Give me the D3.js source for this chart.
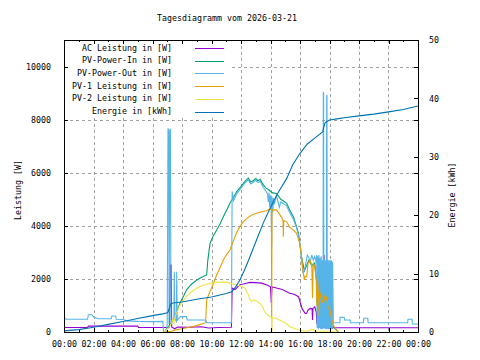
<!DOCTYPE html>
<html>
<head>
<meta charset="utf-8">
<script src="https://cdn.jsdelivr.net/npm/d3@7"></script>
<style>
  body { margin: 0; background: #fff; }
  svg { display: block; font-family: "DejaVu Sans Mono", monospace; font-size: 8.3px; }
</style>
</head>
<body>
<div id="chart-area"></div>
<script>
const title = "Tagesdiagramm vom 2026-03-21";
const hourTicks = [0, 2, 4, 6, 8, 10, 12, 14, 16, 18, 20, 22, 24];
const wattTicks = [0, 2000, 4000, 6000, 8000, 10000];
const kwhTicks = [0, 10, 20, 30, 40, 50];

// [hour, W]
const acPower = [
    [0, 170], [1.6, 170], [1.65, 220], [5.0, 220], [5.05, 170], [7.15, 170], [7.2, 2520], [7.26, 2520],
    [7.3, 190], [7.5, 120], [7.7, 190], [8.5, 180], [9.3, 200], [9.8, 150], [10.5, 170], [11.35, 180],
    [11.4, 1650], [11.6, 1600], [11.9, 1770], [12.3, 1830], [12.6, 1870], [13.0, 1860], [13.4, 1840],
    [13.8, 1760], [14.0, 1700], [14.05, 1100], [14.1, 1700], [14.4, 1660], [14.8, 1600], [15.3, 1460],
    [15.6, 1420], [15.9, 1330], [16.0, 1140], [16.15, 870], [16.35, 700], [16.45, 710], [16.55, 830],
    [16.7, 890], [16.82, 880], [16.85, 450], [16.88, 880], [17.0, 950], [17.1, 750], [17.15, 300],
    [17.2, 500], [17.25, 150], [17.3, 480], [17.35, 150], [17.4, 500], [17.45, 120], [17.5, 450],
    [17.55, 150], [17.63, 2900], [17.66, 200], [17.7, 480], [17.75, 120], [17.8, 500], [17.85, 150],
    [17.9, 520], [17.95, 130], [18.0, 480], [18.05, 120], [18.1, 420], [18.15, 140], [18.25, 160], [24, 160]
];

const pvIn = [
    [6.8, 0], [7.0, 150], [7.2, 300], [7.4, 450], [7.6, 700], [7.86, 1080], [8.1, 1350], [8.3, 1580],
    [8.6, 1780], [9.0, 1960], [9.3, 2050], [9.67, 2150], [9.75, 2700], [9.9, 3340], [10.1, 3600],
    [10.35, 3840], [10.6, 4100], [10.8, 4340], [11.0, 4560], [11.25, 4850], [11.5, 5080], [11.7, 5280],
    [11.95, 5450], [12.16, 5600], [12.35, 5720], [12.5, 5800], [12.65, 5650], [12.83, 5700], [13.0, 5780],
    [13.15, 5700], [13.3, 5750], [13.5, 5550], [13.7, 5420], [13.9, 5350], [14.1, 5250], [14.4, 5220],
    [14.7, 5000], [15.1, 4850], [15.3, 4600], [15.55, 4340], [15.75, 4000], [15.9, 3720], [16.1, 2840],
    [16.3, 2300], [16.6, 2700], [16.8, 2500], [17.0, 2600], [17.2, 1500], [17.5, 1300], [17.8, 1200],
    [18.0, 800], [18.26, 200], [18.5, 50], [18.6, 0]
];

const pvOut = [
    [0, 560], [0.15, 480], [1.6, 480], [1.65, 650], [1.9, 650], [2.0, 560], [2.3, 500], [3.2, 500],
    [3.25, 600], [3.5, 600], [3.55, 480], [4.0, 470], [4.3, 420], [5.0, 400], [6.0, 390], [6.7, 400],
    [6.75, 0], [6.95, 0], [7.0, 350], [7.05, 7670], [7.1, 7600], [7.12, 300], [7.18, 7600], [7.22, 7650],
    [7.25, 400], [7.45, 500], [7.48, 2270], [7.52, 500], [7.62, 400], [7.64, 2270], [7.68, 450],
    [7.9, 580], [8.3, 580], [8.35, 450], [9.6, 450], [9.67, 350], [11.35, 350], [11.4, 5300],
    [11.5, 4950], [11.7, 5200], [11.95, 5380], [12.16, 5540], [12.35, 5660], [12.5, 5740], [12.65, 5580],
    [12.83, 5640], [13.0, 5720], [13.15, 5630], [13.3, 5680], [13.5, 5450], [13.7, 5300], [13.8, 5200],
    [13.85, 4900], [13.9, 5250], [13.95, 4700], [14.0, 5150], [14.05, 4600], [14.08, 3200], [14.1, 5100],
    [14.15, 4500], [14.2, 5050], [14.25, 4800], [14.4, 5150], [14.6, 4700], [14.7, 4900], [15.1, 4750],
    [15.3, 4500], [15.55, 4250], [15.75, 3950], [15.9, 3650], [16.0, 3300], [16.1, 2800], [16.2, 2250],
    [16.3, 2300], [16.4, 2600], [16.5, 2900], [16.6, 2800], [16.7, 2650], [16.8, 2900], [16.9, 2700],
    [17.0, 2850], [17.1, 2600], [17.13, 2900], [17.16, 150], [17.2, 2850], [17.24, 100], [17.28, 2900],
    [17.32, 150], [17.36, 2800], [17.4, 100], [17.44, 2850], [17.48, 120], [17.52, 2700], [17.56, 100],
    [17.58, 9050], [17.6, 9000], [17.62, 150], [17.66, 2750], [17.7, 100], [17.74, 2700], [17.78, 120],
    [17.81, 8930], [17.83, 8900], [17.85, 100], [17.89, 2700], [17.93, 100], [17.97, 2700], [18.01, 120],
    [18.05, 2700], [18.09, 100], [18.13, 2700], [18.17, 100], [18.21, 2650], [18.26, 350], [18.7, 350],
    [18.72, 550], [19.0, 550], [19.02, 450], [19.4, 450], [19.42, 350], [20.3, 350], [20.32, 520],
    [20.6, 520], [20.62, 350], [23.3, 350], [23.32, 480], [23.6, 480], [23.62, 300], [24, 300]
];

const pv1 = [
    [6.9, 0], [7.3, 30], [7.6, 80], [8.0, 120], [8.5, 180], [9.0, 240], [9.44, 320], [9.6, 350],
    [9.67, 1200], [9.8, 1400], [10.0, 1650], [10.35, 2150], [10.6, 2450], [10.8, 2710], [11.0, 2900],
    [11.25, 3090], [11.5, 3450], [11.7, 3750], [11.93, 3970], [12.15, 4150], [12.4, 4280], [12.7, 4400],
    [13.06, 4470], [13.4, 4530], [13.74, 4570], [14.0, 4640], [14.06, 4650], [14.08, 0], [14.1, 4600],
    [14.4, 4600], [14.6, 4450], [14.85, 4220], [14.87, 3590], [14.9, 4200], [15.1, 4150], [15.3, 3950],
    [15.55, 3850], [15.77, 3720], [16.0, 3300], [16.1, 2850], [16.2, 2300], [16.3, 1960], [16.35, 2100],
    [16.45, 2080], [16.55, 2600], [16.68, 2710], [16.8, 2500], [16.85, 1280], [16.9, 2600], [17.0, 2450],
    [17.1, 1950], [17.15, 1000], [17.2, 1900], [17.25, 1400], [17.3, 600], [17.35, 1500], [17.47, 1200],
    [17.55, 1100], [17.6, 1450], [17.7, 1200], [17.8, 1300], [17.9, 900], [18.0, 950], [18.1, 600],
    [18.26, 250], [18.5, 50], [18.6, 0]
];

const pv2 = [
    [6.8, 0], [7.1, 150], [7.3, 350], [7.4, 500], [7.45, 300], [7.53, 580], [7.7, 800], [7.86, 1020],
    [8.1, 1200], [8.3, 1330], [8.6, 1500], [9.0, 1650], [9.3, 1730], [9.67, 1800], [10.0, 1840],
    [10.35, 1870], [10.7, 1880], [11.03, 1870], [11.4, 1820], [11.7, 1770], [12.0, 1720], [12.27, 1650],
    [12.4, 1500], [12.5, 1400], [12.6, 1250], [12.7, 1140], [12.85, 1200], [13.06, 1180], [13.2, 1100],
    [13.4, 1020], [13.5, 900], [13.6, 770], [13.8, 650], [13.97, 580], [14.06, 560], [14.08, 0],
    [14.1, 540], [14.4, 515], [14.6, 450], [14.87, 390], [15.1, 300], [15.32, 200], [15.55, 150],
    [15.78, 100], [16.0, 60], [16.3, 40], [16.6, 40], [16.75, 100], [16.9, 90], [17.0, 40], [17.5, 30],
    [18.26, 30], [18.4, 0]
];

// [hour, kWh]
const energy = [
    [0, 0.2], [1.0, 0.4], [2.0, 0.8], [3.0, 1.3], [4.0, 1.8], [5.0, 2.3], [6.0, 2.8], [6.7, 3.1],
    [7.0, 3.3], [7.05, 3.4], [7.25, 4.9], [7.5, 5.0], [8.0, 5.15], [9.0, 5.6], [10.0, 6.0], [11.0, 6.6],
    [11.37, 6.9], [11.6, 7.6], [11.93, 8.9], [12.2, 10.4], [12.5, 12.2], [13.06, 15.8], [13.5, 18.6],
    [13.97, 21.2], [14.5, 23.8], [15.1, 26.3], [15.5, 28.6], [16.0, 30.6], [16.5, 32.2], [17.0, 33.2],
    [17.55, 34.3], [17.6, 35.0], [17.7, 35.8], [17.8, 36.0], [18.0, 36.3], [18.5, 36.5], [19.0, 36.7],
    [20.0, 37.0], [21.0, 37.3], [22.0, 37.7], [23.0, 38.1], [24.0, 38.7]
];

const series = [
    { label: "AC Leistung in [W]", data: acPower, color: "#9400d3", axis: "y" },
    { label: "PV-Power-In in [W]", data: pvIn, color: "#009e73", axis: "y" },
    { label: "PV-Power-Out in [W]", data: pvOut, color: "#56b4e9", axis: "y" },
    { label: "PV-1 Leistung in [W]", data: pv1, color: "#e69f00", axis: "y" },
    { label: "PV-2 Leistung in [W]", data: pv2, color: "#f0e442", axis: "y" },
    { label: "Energie in [kWh]", data: energy, color: "#0072b2", axis: "y2" }
];

const width = 480, height = 360;
const plot = { left: 64, right: 418, top: 40, bottom: 332 };

const svg = d3.select("#chart-area")
    .append("svg")
    .attr("width", width)
    .attr("height", height);

const x = d3.scaleLinear().domain([0, 24]).range([plot.left, plot.right]);
const y = d3.scaleLinear().domain([0, 11000]).range([plot.bottom, plot.top]);
const y2 = d3.scaleLinear().domain([0, 50]).range([plot.bottom, plot.top]);

const hhmm = h => (h % 24 < 10 ? "0" : "") + (h % 24) + ":00";

// grid
const grid = svg.append("g")
    .attr("stroke", "#a0a0a0")
    .attr("stroke-dasharray", "3,3")
    .attr("shape-rendering", "crispEdges");
grid.selectAll("line.gx")
    .data(hourTicks.slice(1, -1))
    .join("line")
    .attr("x1", d => Math.round(x(d)) + 0.5).attr("x2", d => Math.round(x(d)) + 0.5)
    .attr("y1", plot.top).attr("y2", plot.bottom);
grid.selectAll("line.gy")
    .data(wattTicks.slice(1))
    .join("line")
    .attr("x1", plot.left).attr("x2", plot.right)
    .attr("y1", d => Math.round(y(d)) + 0.5).attr("y2", d => Math.round(y(d)) + 0.5);

// data lines, plotted in order like gnuplot
const lines = svg.append("g");
series.forEach(s => {
    const yy = s.axis === "y2" ? y2 : y;
    const line = d3.line().x(d => x(d[0])).y(d => yy(d[1]));
    lines.append("path")
        .datum(s.data)
        .attr("fill", "none")
        .attr("stroke", s.color)
        .attr("stroke-width", 1.1)
        .attr("d", line);
});

// opaque key
svg.append("rect")
    .attr("x", plot.left + 1).attr("y", plot.top + 1)
    .attr("width", 166).attr("height", 77)
    .attr("fill", "#fff");

const key = svg.append("g");
series.forEach((s, i) => {
    const ky = 48 + i * 12.7;
    key.append("text")
        .attr("x", 172).attr("y", ky)
        .attr("dy", "0.32em")
        .attr("text-anchor", "end")
        .text(s.label);
    key.append("line")
        .attr("x1", 195).attr("x2", 224)
        .attr("y1", Math.round(ky) + 0.5).attr("y2", Math.round(ky) + 0.5)
        .attr("stroke", s.color)
        .attr("shape-rendering", "crispEdges");
});

// axes with inward ticks
const axes = svg.append("g").attr("shape-rendering", "crispEdges");

axes.append("g")
    .attr("transform", `translate(0,${plot.bottom})`)
    .call(d3.axisBottom(x).tickValues(hourTicks).tickFormat(hhmm).tickSize(-4).tickPadding(9));
axes.append("g")
    .attr("transform", `translate(0,${plot.bottom})`)
    .call(d3.axisBottom(x).tickValues(hourTicks.slice(0, -1).map(h => h + 1)).tickFormat("").tickSize(-2));
axes.append("g")
    .attr("transform", `translate(0,${plot.top})`)
    .call(d3.axisTop(x).tickValues(hourTicks).tickFormat("").tickSize(-4));
axes.append("g")
    .attr("transform", `translate(0,${plot.top})`)
    .call(d3.axisTop(x).tickValues(hourTicks.slice(0, -1).map(h => h + 1)).tickFormat("").tickSize(-2));

axes.append("g")
    .attr("transform", `translate(${plot.left},0)`)
    .call(d3.axisLeft(y).tickValues(wattTicks).tickFormat(d3.format("d")).tickSize(-4).tickPadding(13));
axes.append("g")
    .attr("transform", `translate(${plot.right},0)`)
    .call(d3.axisRight(y).tickValues(wattTicks).tickFormat("").tickSize(-4));
axes.append("g")
    .attr("transform", `translate(${plot.right},0)`)
    .call(d3.axisRight(y2).tickValues(kwhTicks).tickFormat(d3.format("d")).tickSize(-4).tickPadding(11));

axes.selectAll(".domain").remove();
axes.selectAll("text")
    .attr("fill", "#000")
    .attr("font-family", "DejaVu Sans Mono, monospace")
    .attr("font-size", "8.3px");

svg.append("rect")
    .attr("x", plot.left + 0.5).attr("y", plot.top + 0.5)
    .attr("width", plot.right - plot.left).attr("height", plot.bottom - plot.top)
    .attr("fill", "none")
    .attr("stroke", "#000")
    .attr("shape-rendering", "crispEdges");

// titles
svg.append("text")
    .attr("x", 227).attr("y", 21)
    .attr("text-anchor", "middle")
    .text(title);

svg.append("text")
    .attr("transform", "translate(21,190) rotate(-90)")
    .attr("text-anchor", "middle")
    .text("Leistung [W]");

svg.append("text")
    .attr("transform", "translate(455,195) rotate(-90)")
    .attr("text-anchor", "middle")
    .text("Energie [kWh]");
</script>
</body>
</html>
